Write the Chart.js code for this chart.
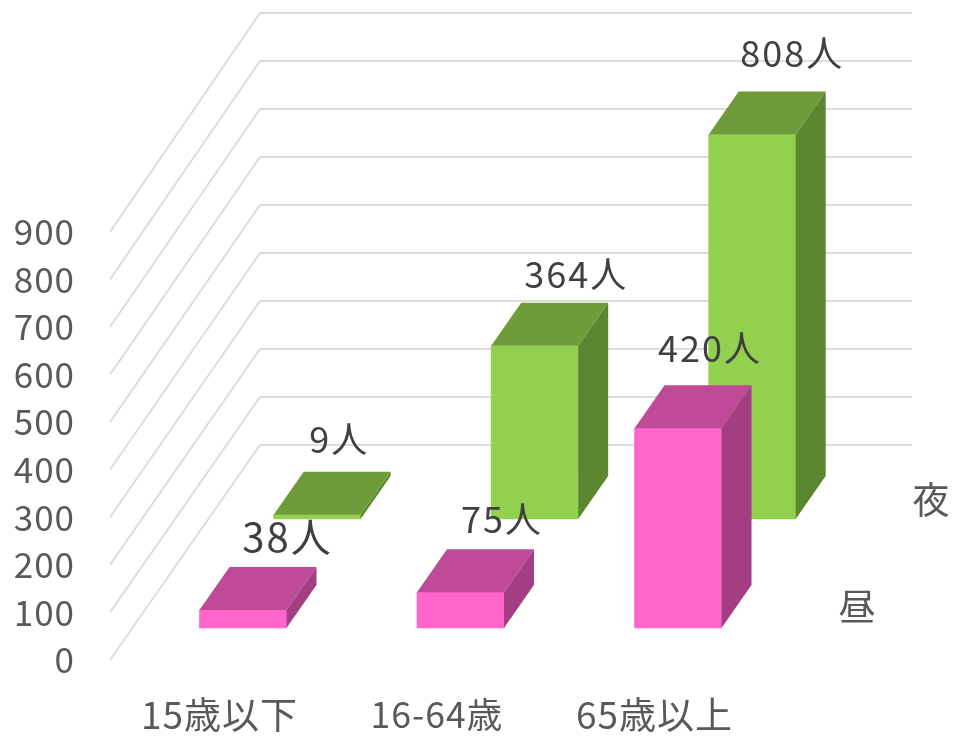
<!DOCTYPE html>
<html>
<head>
<meta charset="utf-8">
<title>3D bar chart</title>
<script src="https://cdn.jsdelivr.net/npm/chart.js@4/dist/chart.umd.min.js"></script>
<style>
  html, body { margin: 0; padding: 0; background: #fff; }
  #wrap { width: 955px; height: 739px; }
</style>
</head>
<body>
<div id="wrap"><canvas id="chart" width="955" height="739"></canvas></div>
<script>
const categories = ["15歳以下", "16-64歳", "65歳以上"];
const seriesNames = ["昼", "夜"];
const dayValues = [38, 75, 420];
const nightValues = [9, 364, 808];
const yTicks = [0, 100, 200, 300, 400, 500, 600, 700, 800, 900];

const FONT = '"Noto Sans CJK JP", "Noto Sans", sans-serif';
// depth of the fake 3d box and of the back wall, in pixels
const BAR_DX = 30, BAR_DY = 43;
const WALL_DX = 150, WALL_DY = 215;
const WALL_STRETCH = 1.009; // back wall is a touch taller than the front edge

const faceColors = [
  { top: "#BE4A98", side: "#A33E82" },
  { top: "#6F9C3B", side: "#5C8530" },
];
// where each value label sits, relative to the top of the front face
const labelOffsets = [
  [[44.5, -73], [41.5, -73], [32, -80]],
  [[22, -75], [41.5, -71], [40, -81]],
];
const labelFontSizes = [
  [40, 36, 36],
  [36, 36, 36],
];
const categoryFontSizes = [37, 35.5, 37];
const seriesLabelSpots = [[858, 607], [932, 500]];

const wallPlugin = {
  id: "wall",
  beforeDraw(chart) {
    chart.ctx.letterSpacing = "1px";
  },
  beforeDatasetsDraw(chart) {
    const { ctx, chartArea, scales } = chart;
    const floor = scales.y.getPixelForValue(0);
    ctx.save();
    ctx.strokeStyle = "#DDDDDD";
    ctx.lineWidth = 2;
    yTicks.forEach((v) => {
      const y = scales.y.getPixelForValue(v);
      const backY = floor - WALL_DY - (floor - y) * WALL_STRETCH;
      ctx.beginPath();
      ctx.moveTo(chartArea.left, y);
      ctx.lineTo(chartArea.left + WALL_DX, backY);
      ctx.lineTo(chartArea.right, backY);
      ctx.stroke();
    });
    ctx.restore();
  },
};

function poly(ctx, color, pts) {
  ctx.fillStyle = color;
  ctx.beginPath();
  pts.forEach((p, i) => (i ? ctx.lineTo(p[0], p[1]) : ctx.moveTo(p[0], p[1])));
  ctx.closePath();
  ctx.fill();
}

const boxPlugin = {
  id: "box",
  // runs right after each dataset so the front row covers the back row
  afterDatasetDraw(chart, args) {
    const { ctx } = chart;
    const colors = faceColors[args.index];
    args.meta.data.forEach((bar) => {
      const { x, y, base, width } = bar.getProps(["x", "y", "base", "width"], true);
      const l = x - width / 2, r = x + width / 2;
      poly(ctx, colors.side, [[r, y], [r + BAR_DX, y - BAR_DY], [r + BAR_DX, base - BAR_DY], [r, base]]);
      poly(ctx, colors.top, [[l, y], [l + BAR_DX, y - BAR_DY], [r + BAR_DX, y - BAR_DY], [r, y]]);
    });
  },
  afterDatasetsDraw(chart) {
    const { ctx } = chart;
    ctx.save();
    ctx.letterSpacing = "2px";
    ctx.textAlign = "center";
    ctx.textBaseline = "middle";
    ctx.fillStyle = "#404040";
    chart.data.datasets.forEach((ds, i) => {
      chart.getDatasetMeta(i).data.forEach((bar, j) => {
        const { x, y } = bar.getProps(["x", "y"], true);
        ctx.font = labelFontSizes[i][j] + "px " + FONT;
        ctx.fillText(ds.data[j].y + "人", x + labelOffsets[i][j][0], y + labelOffsets[i][j][1]);
      });
    });
    ctx.font = "37px " + FONT;
    ctx.fillStyle = "#595959";
    seriesNames.forEach((name, i) => {
      ctx.fillText(name, seriesLabelSpots[i][0], seriesLabelSpots[i][1]);
    });
    ctx.restore();
  },
};

function toPoints(values) {
  return values.map((v, i) => ({ x: i, y: v }));
}

const hiddenAxis = (axis, min, max) => ({ type: "linear", axis, min, max, offset: false, display: false });

new Chart(document.getElementById("chart"), {
  type: "bar",
  data: {
    datasets: [
      {
        label: seriesNames[0],
        data: toPoints(dayValues),
        backgroundColor: "#FF66CC",
        xAxisID: "xDay",
        yAxisID: "yDay",
        barThickness: 87,
        borderWidth: 0,
        grouped: false,
      },
      {
        label: seriesNames[1],
        data: toPoints(nightValues),
        backgroundColor: "#92D050",
        xAxisID: "xNight",
        yAxisID: "yNight",
        barThickness: 87,
        borderWidth: 0,
        grouped: false,
      },
    ],
  },
  options: {
    responsive: false,
    animation: false,
    layout: { padding: { top: 13, right: 43, left: 0, bottom: 0 } },
    plugins: { legend: { display: false }, tooltip: { enabled: false } },
    scales: {
      // the two rows share one pixel scale, only the floor line differs
      xDay: hiddenAxis("x", -0.6113, 3.0757),
      xNight: hiddenAxis("x", -0.9523, 2.7347),
      yDay: hiddenAxis("y", -67.3, 1292.7),
      yNight: hiddenAxis("y", -296.5, 1063.5),
      xLabels: {
        type: "linear",
        axis: "x",
        position: "bottom",
        min: -0.503,
        max: 3.184,
        offset: false,
        grid: { display: false },
        border: { display: false },
        afterBuildTicks(scale) {
          scale.ticks = categories.map((c, i) => ({ value: i }));
        },
        afterFit(scale) {
          scale.height = 79;
          scale.paddingLeft = 0;
          scale.paddingRight = 0;
        },
        ticks: {
          autoSkip: false,
          maxRotation: 0,
          padding: 25,
          color: "#595959",
          font: (c) => ({ family: FONT, size: categoryFontSizes[c.index] }),
          callback: (v) => categories[v],
        },
      },
      y: {
        type: "linear",
        axis: "y",
        position: "left",
        min: 0,
        max: 1360,
        grid: { display: false },
        border: { display: false },
        afterBuildTicks(scale) {
          scale.ticks = yTicks.map((v) => ({ value: v }));
        },
        afterFit(scale) {
          scale.width = 110;
          scale.paddingTop = 0;
          scale.paddingBottom = 0;
        },
        ticks: {
          autoSkip: false,
          padding: 27,
          color: "#595959",
          font: { family: FONT, size: 35 },
        },
      },
    },
  },
  plugins: [wallPlugin, boxPlugin],
});
</script>
</body>
</html>
